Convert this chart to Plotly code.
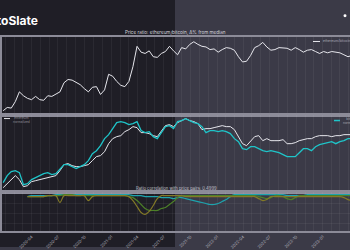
import pandas as pd
import plotly.graph_objects as go

# ---------------- data ----------------
dates = pd.date_range("2019-12-25", periods=87, freq="14D")
corr_dates = dates[6:]

ratio_pct = [-84, -79, -80, -70, -55, -61, -65, -67, -62, -67,
             -68, -61, -62, -59, -55, -41, -36, -37, -41, -44,
             -50, -55, -48, -47, -59, -52, -28, -31, -39, -45,
             -47, -39, -16, 15, 6, 4, 8, -1, -2, 4,
             7, 15, 8, 2, 13, 11, 18, 22, 18, 15,
             14, 10, 11, 6, 10, 13, 12, 9, -1, -9,
             -8, 1, 13, 16, 21, 14, 9, 10, 13, 12,
             12, 9, 13, 10, 6, 9, 10, 7, 4, 7,
             5, 7, 6, 5, 2, -1, 1]

btc_norm = [11.7, 20.8, 26.0, 27.3, 24.7, 9.1, 10.4, 15.6, 18.2, 20.8,
            23.4, 24.7, 22.1, 23.4, 29.9, 35.1, 35.1, 32.5, 29.9, 32.5,
            35.1, 40.3, 49.4, 53.2, 59.7, 68.8, 74.0, 81.8, 89.6, 90.9,
            89.6, 87.0, 88.3, 90.9, 79.2, 76.6, 77.9, 71.4, 68.8, 76.6,
            84.4, 85.7, 81.8, 90.9, 92.2, 94.8, 92.2, 89.6, 88.3, 84.4,
            76.6, 79.2, 79.2, 77.9, 79.2, 77.9, 75.3, 68.8, 64.9, 55.8,
            54.5, 58.4, 58.4, 55.8, 53.2, 51.9, 53.2, 51.9, 50.6, 48.1,
            45.5, 45.5, 45.5, 50.6, 55.8, 55.8, 53.2, 58.4, 61.0, 62.3,
            63.6, 64.9, 62.3, 64.9, 66.2, 68.8, 68.8]

eth_norm = [5.2, 10.4, 15.6, 20.8, 15.6, 6.5, 7.8, 13.0, 14.3, 15.6,
            16.9, 18.2, 19.5, 20.8, 27.3, 35.1, 36.4, 33.8, 32.5, 32.5,
            33.8, 35.1, 40.3, 45.5, 46.8, 51.9, 62.3, 68.8, 71.4, 72.7,
            77.9, 80.5, 84.4, 83.1, 76.6, 76.6, 75.3, 72.7, 71.4, 79.2,
            85.7, 87.0, 84.4, 89.6, 92.2, 94.8, 92.2, 90.9, 88.3, 80.5,
            81.8, 81.8, 83.1, 84.4, 85.7, 84.4, 84.4, 80.5, 71.4, 62.3,
            59.7, 66.2, 71.4, 72.7, 66.2, 68.8, 66.2, 66.2, 66.2, 67.5,
            62.3, 62.3, 63.6, 66.2, 67.5, 68.8, 68.8, 71.4, 72.7, 72.7,
            72.7, 71.4, 72.7, 72.7, 74.0, 74.0, 74.0]

corr_btc = [0.85, 0.90, 0.90, 0.90, 0.90, 0.90, 0.90, 0.95, 0.95, 0.95,
            0.95, 0.95, 0.95, 0.95, 0.95, 0.95, 0.95, 0.95, 0.95, 0.95,
            0.95, 0.95, 0.95, 0.95, 0.95, 0.95, 0.90, 0.90, 0.90, 0.85,
            0.85, 0.85, 0.85, 0.80, 0.80, 0.80, 0.75, 0.80, 0.80, 0.75,
            0.70, 0.65, 0.60, 0.55, 0.50, 0.45, 0.45, 0.50, 0.60, 0.70,
            0.85, 0.95, 0.95, 0.95, 0.95, 0.95, 0.95, 0.95, 0.95, 0.95,
            0.95, 0.95, 0.95, 0.95, 0.90, 0.90, 0.90, 0.90, 0.90, 0.95,
            0.95, 0.95, 0.95, 0.95, 0.95, 0.95, 0.95, 0.95, 0.95, 0.95,
            0.95]

corr_eth = [0.85, 0.85, 0.85, 0.85, 0.85, 0.90, 0.90, 0.90, 0.90, 0.95,
            0.95, 0.95, 0.90, 0.90, 0.90, 0.90, 0.90, 0.90, 0.90, 0.90,
            0.90, 0.90, 0.90, 0.90, 0.90, 0.85, 0.80, 0.65, 0.45, 0.25,
            0.15, 0.15, 0.15, 0.25, 0.30, 0.45, 0.60, 0.80, 0.90, 0.90,
            0.90, 0.90, 0.90, 0.90, 0.90, 0.90, 0.90, 0.90, 0.90, 0.90,
            0.90, 0.90, 0.90, 0.90, 0.90, 0.90, 0.90, 0.85, 0.80, 0.75,
            0.80, 0.90, 0.90, 0.85, 0.75, 0.70, 0.80, 0.90, 0.90, 0.90,
            0.90, 0.90, 0.90, 0.90, 0.90, 0.90, 0.90, 0.90, 0.90, 0.90,
            0.90]

corr_pair = [0.85, 0.85, 0.85, 0.85, 0.85, 0.90, 0.90, 0.90, 0.55, 0.90,
             0.90, 0.90, 0.90, 0.90, 0.90, 0.65, 0.85, 0.90, 0.90, 0.90,
             0.90, 0.90, 0.90, 0.90, 0.90, 0.85, 0.65, 0.35, 0.05, -0.05,
             0.10, 0.40, 0.75, 0.90, 0.90, 0.90, 0.90, 0.90, 0.90, 0.85,
             0.85, 0.85, 0.85, 0.85, 0.85, 0.85, 0.85, 0.85, 0.85, 0.85,
             0.85, 0.85, 0.85, 0.85, 0.85, 0.85, 0.85, 0.75, 0.65, 0.70,
             0.85, 0.85, 0.85, 0.85, 0.85, 0.85, 0.85, 0.85, 0.85, 0.85,
             0.85, 0.85, 0.85, 0.85, 0.85, 0.85, 0.85, 0.85, 0.80, 0.70,
             0.65]

# ---------------- figure ----------------
W, H = 350, 250
FRAME = "#8c8b98"
TXT = "#c9c8d2"
FONT = "Inter"

def px_x(x):
    return x / W

def px_y(y):
    return 1 - y / H

fig = go.Figure()
fig.add_trace(go.Scatter(x=dates, y=ratio_pct, mode="lines", name="ethereum/bitcoin",
                         line=dict(color="#e6e6ec", width=1.0), xaxis="x", yaxis="y"))
fig.add_trace(go.Scatter(x=dates, y=eth_norm, mode="lines", name="ethereum",
                         line=dict(color="#e6e6ec", width=1.0), xaxis="x2", yaxis="y2"))
fig.add_trace(go.Scatter(x=dates, y=btc_norm, mode="lines", name="bitcoin",
                         line=dict(color="#1fc4c8", width=1.3), xaxis="x2", yaxis="y2"))
fig.add_trace(go.Scatter(x=corr_dates, y=corr_btc, mode="lines", name="corr btc",
                         line=dict(color="#1ea3ad", width=1.2, shape="spline"), xaxis="x3", yaxis="y3"))
fig.add_trace(go.Scatter(x=corr_dates, y=corr_eth, mode="lines", name="corr eth",
                         line=dict(color="#4c7f28", width=1.2, shape="spline"), xaxis="x3", yaxis="y3"))
fig.add_trace(go.Scatter(x=corr_dates, y=corr_pair, mode="lines", name="corr pair",
                         line=dict(color="#837a27", width=1.2, shape="spline"), xaxis="x3", yaxis="y3"))

xrange = ["2019-12-21", "2023-04-05"]
xdom = [px_x(2), 1.0]
grid = "rgba(255,255,255,0.05)"
common_x = dict(range=xrange, domain=xdom, showline=True, mirror=True, linecolor=FRAME,
                linewidth=1.5, showgrid=True, gridcolor=grid, gridwidth=1, dtick="M3",
                tick0="2020-01-01", ticks="", zeroline=False,
                minor=dict(dtick="M1", showgrid=True, gridcolor=grid, gridwidth=1))
common_y = dict(showline=True, linecolor=FRAME, linewidth=1.5, showticklabels=False,
                ticks="", zeroline=False, showgrid=False)

fig.update_layout(
    width=W, height=H,
    margin=dict(l=0, r=0, t=0, b=0),
    paper_bgcolor="#3b3a47",
    plot_bgcolor="rgba(0,0,0,0)",
    showlegend=False,
    font=dict(family=FONT, color=TXT),
    xaxis=dict(anchor="y", showticklabels=False, **common_x),
    xaxis2=dict(anchor="y2", matches="x", showticklabels=False, **common_x),
    xaxis3=dict(anchor="y3", matches="x", showticklabels=True, tickangle=-45,
                tickformat="%Y-%m", tickfont=dict(size=4, color="#b4b3be"), **common_x),
    yaxis=dict(anchor="x", domain=[px_y(116), px_y(37)], range=[-90, 30], **common_y),
    yaxis2=dict(anchor="x2", domain=[px_y(194), px_y(116)], range=[0, 100], **common_y),
    yaxis3=dict(anchor="x3", domain=[px_y(234), px_y(194)], range=[-0.9, 1.1],
                showline=True, linecolor=FRAME, linewidth=1.5, showticklabels=False,
                ticks="", zeroline=False, showgrid=True, gridcolor=grid, dtick=0.5),
)

shapes = [
    dict(type="rect", xref="paper", yref="paper", x0=0, x1=0.5, y0=0, y1=1,
         fillcolor="#1f1e26", line=dict(width=0), layer="below"),
    dict(type="circle", xref="paper", yref="paper", x0=px_x(343.5), x1=px_x(346.5),
         y0=px_y(17.5), y1=px_y(14.5), fillcolor="white", line=dict(width=0)),
    # legend swatches
    dict(type="line", xref="paper", yref="paper", x0=px_x(313), x1=px_x(320),
         y0=px_y(42), y1=px_y(42), line=dict(color="#e6e6ec", width=1)),
    dict(type="line", xref="paper", yref="paper", x0=px_x(4), x1=px_x(10),
         y0=px_y(120), y1=px_y(120), line=dict(color="#e6e6ec", width=1)),
    dict(type="line", xref="paper", yref="paper", x0=px_x(334), x1=px_x(340),
         y0=px_y(122), y1=px_y(122), line=dict(color="#1fc4c8", width=1.5)),
]
fig.update_layout(shapes=shapes)

ann = [
    dict(text="<b>CryptoSlate</b>", x=px_x(40), y=px_y(21), xanchor="right", yanchor="middle",
         font=dict(size=12, color="white", family=FONT)),
    dict(text="Price ratio: ethereum/bitcoin, Δ% from median", x=0.5, y=px_y(33),
         xanchor="center", yanchor="middle", font=dict(size=4.6, color="#d4d3dc")),
    dict(text="Ratio correlation with price pairs: 0.4999", x=px_x(177), y=px_y(191),
         xanchor="center", yanchor="middle", font=dict(size=4.2, color="#c4c3cd")),
    dict(text="ethereum/bitcoin Δ%", x=px_x(321), y=px_y(42), xanchor="left", yanchor="middle",
         font=dict(size=3.4, color="#a9a8b3")),
    dict(text="ethereum<br>normalized", x=px_x(11), y=px_y(121), xanchor="left", yanchor="middle",
         font=dict(size=3.2, color="#8e8d98")),
    dict(text="bitcoin<br>normalized", x=px_x(341), y=px_y(122), xanchor="left", yanchor="middle",
         font=dict(size=3.2, color="#a9a8b3")),
]
for a in ann:
    a.update(xref="paper", yref="paper", showarrow=False)
fig.update_layout(annotations=ann)

fig.write_html("out.html")
